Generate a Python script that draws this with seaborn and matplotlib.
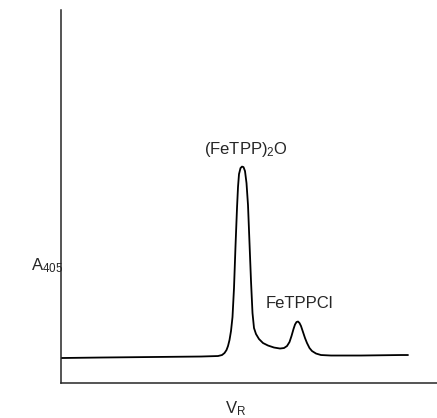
import pandas as pd
import seaborn as sns
import matplotlib.pyplot as plt

# retention volume (arbitrary units) and absorbance at 405 nm (arbitrary units)
v_r = [0, 40, 90, 140, 157, 161, 163.5, 165.5, 167, 168.5, 170, 171.5, 173, 174.5, 176, 177,
       178, 179.5, 181, 182.5, 184, 185.5, 187, 188.5, 190, 191.5, 193, 195, 198, 202,
       207, 213, 219, 223, 226, 228.5, 230.5, 232.5, 234, 235.5, 237, 238.5, 240, 242,
       244, 246, 248.5, 251, 255, 260, 270, 300, 340, 347]
a_405 = [25, 25.5, 26, 26.5, 27, 28, 30, 33, 37, 43, 52, 66, 95, 137, 175, 196,
         209, 215, 216.5, 216, 212, 200, 178, 140, 102, 70, 55, 49, 44, 40,
         37.5, 35.5, 34.5, 35, 37, 41, 47, 54, 58.5, 61, 61.5, 60, 57, 51,
         45, 40, 35, 32, 29.5, 28, 27.5, 27.5, 28, 28]

peak_labels = ['(FeTPP)$_2$O', 'FeTPPCl']
y_title = 'A$_{405}$'
x_title = 'V$_R$'

sns.set_style('ticks')
plt.rcParams['font.family'] = ['Liberation Sans', 'DejaVu Sans']
plt.rcParams['mathtext.fontset'] = 'custom'
plt.rcParams['mathtext.rm'] = 'Liberation Sans'
plt.rcParams['mathtext.default'] = 'regular'

df = pd.DataFrame({'V_R': v_r, 'A405': a_405})

fig = plt.figure(figsize=(4.37, 4.18), dpi=100)
ax = fig.add_axes([0.1396, 0.0837, 0.8604, 0.892])
sns.lineplot(data=df, x='V_R', y='A405', sort=False, color='black', lw=1.3, ax=ax)

ax.set_xlim(0, 376)
ax.set_ylim(0, 373)
sns.despine(ax=ax)
for s in ['left', 'bottom']:
    ax.spines[s].set_linewidth(1.1)
ax.set_xticks([])
ax.set_yticks([])
ax.set_xlabel('')
ax.set_ylabel('')

# peak labels
ax.text(185, 234, peak_labels[0], ha='center', va='center', fontsize=12)
ax.text(238, 80, peak_labels[1], ha='center', va='center', fontsize=12)

fig.text(47 / 437, 1 - 266 / 418, y_title, ha='center', va='center', fontsize=12)
fig.text(236 / 437, 1 - 409 / 418, x_title, ha='center', va='center', fontsize=12)

fig.savefig('out.png', dpi=100)
